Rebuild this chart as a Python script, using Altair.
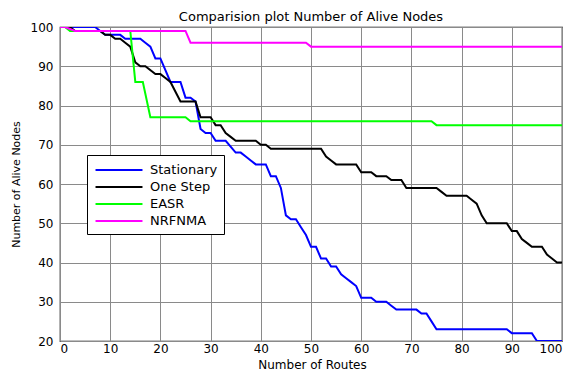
import altair as alt
import pandas as pd

series_names = ["Stationary", "One Step", "EASR", "NRFNMA"]
series_colors = ["#0000FF", "#000000", "#00FF00", "#FF00FF"]

stationary_x = [0, 7, 8, 9, 12, 13, 16, 17, 18, 19, 20, 22, 24, 25, 26, 27, 28, 29, 30, 31, 33, 35, 36, 37, 38, 39, 41, 42, 43, 44, 45, 46, 47, 48, 49, 50, 51, 52, 53, 54, 55, 56, 57, 58, 59, 60, 62, 63, 65, 66, 67, 71, 72, 73, 74, 75, 89, 90, 94, 95, 100]
stationary_y = [100, 100, 99, 98, 98, 97, 97, 96, 95, 92, 92, 86, 86, 82, 82, 81, 74, 73, 73, 71, 71, 68, 68, 67, 66, 65, 65, 62, 62, 59, 52, 51, 51, 49, 47, 44, 44, 41, 41, 39, 39, 37, 36, 35, 34, 31, 31, 30, 30, 29, 28, 28, 27, 27, 25, 23, 23, 22, 22, 20, 20]

onestep_x = [0, 2, 3, 8, 9, 10, 11, 12, 13, 14, 15, 16, 17, 19, 20, 21, 22, 24, 27, 28, 30, 31, 32, 33, 34, 35, 39, 40, 41, 42, 52, 53, 54, 55, 59, 60, 62, 63, 65, 66, 68, 69, 75, 76, 77, 81, 82, 83, 84, 85, 89, 90, 91, 92, 93, 94, 96, 97, 98, 99, 100]
onestep_y = [100, 100, 99, 99, 98, 98, 97, 97, 96, 95, 91, 90, 90, 88, 88, 87, 86, 81, 81, 77, 77, 75, 75, 73, 72, 71, 71, 70, 70, 69, 69, 67, 66, 65, 65, 63, 63, 62, 62, 61, 61, 59, 59, 58, 57, 57, 56, 55, 52, 50, 50, 48, 48, 46, 45, 44, 44, 42, 41, 40, 40]

easr_x = [0, 1, 2, 14, 15, 16.5, 18, 25, 26, 74, 75, 100]
easr_y = [100, 100, 99, 99, 86, 86, 77, 77, 76, 76, 75, 75]

nrfnma_x = [0, 1, 3, 25, 26, 49, 50, 100]
nrfnma_y = [100, 100, 99, 99, 96, 96, 95, 95]

x_ticks = [0, 10, 20, 30, 40, 50, 60, 70, 80, 90, 100]
y_ticks = [20, 30, 40, 50, 60, 70, 80, 90, 100]

frames = []
for name, xs, ys in [
    ("Stationary", stationary_x, stationary_y),
    ("One Step", onestep_x, onestep_y),
    ("EASR", easr_x, easr_y),
    ("NRFNMA", nrfnma_x, nrfnma_y),
]:
    frames.append(pd.DataFrame({"routes": xs, "alive": ys, "series": name, "idx": range(len(xs))}))
df = pd.concat(frames, ignore_index=True)

FONT = "DejaVu Sans"
W, H = 502, 314

color_scale = alt.Scale(domain=series_names, range=series_colors)

layers = []
for i, name in enumerate(series_names):
    legend = None
    if i == 0:
        legend = alt.Legend(
            orient="none", legendX=27, legendY=128, direction="vertical",
            title=None, symbolType="M-3,0H3", symbolSize=245, symbolStrokeWidth=2,
            symbolOffset=17, labelOffset=22,
            labelFont=FONT, labelFontSize=13, labelColor="black",
            strokeColor="black", fillColor="white", padding=6, rowPadding=1,
            cornerRadius=0,
        )
    layer = alt.Chart(df).transform_filter(alt.datum.series == name).mark_line(
        strokeWidth=2, clip=True
    ).encode(
        x=alt.X("routes:Q", scale=alt.Scale(domain=[0, 100], nice=False),
                axis=alt.Axis(values=x_ticks, title="Number of Routes", grid=True,
                              titleX=252, titleY=18, titleBaseline="top", labelPadding=2)),
        y=alt.Y("alive:Q", scale=alt.Scale(domain=[20, 100], nice=False, zero=False),
                axis=alt.Axis(values=y_ticks, title="Number of Alive Nodes", grid=True,
                              titleX=-39, titleY=H / 2, titleBaseline="bottom", titleAngle=270,
                              titleFontSize=11, labelPadding=7)),
        color=alt.Color("series:N", scale=color_scale, legend=legend),
        order="idx:Q",
    )
    layers.append(layer)

chart = alt.layer(*layers).properties(
    width=W, height=H,
    title=alt.TitleParams("Comparision plot Number of Alive Nodes", font=FONT, fontSize=13,
                          fontWeight="normal", color="black", anchor="middle", offset=-3),
    autosize=alt.AutoSizeParams(type="none"),
    padding={"left": 52, "top": 19, "right": 11, "bottom": 30},
).configure_view(
    stroke="black", strokeWidth=1.2
).configure_axis(
    labelFont=FONT, labelFontSize=12, labelColor="black",
    titleFont=FONT, titleFontSize=12, titleFontWeight="normal", titleColor="black",
    gridColor="#8a8a8a", gridWidth=1, gridOpacity=1,
    domain=False, ticks=False,
)

chart.save("out.html", embed_options={"renderer": "svg", "actions": False})
